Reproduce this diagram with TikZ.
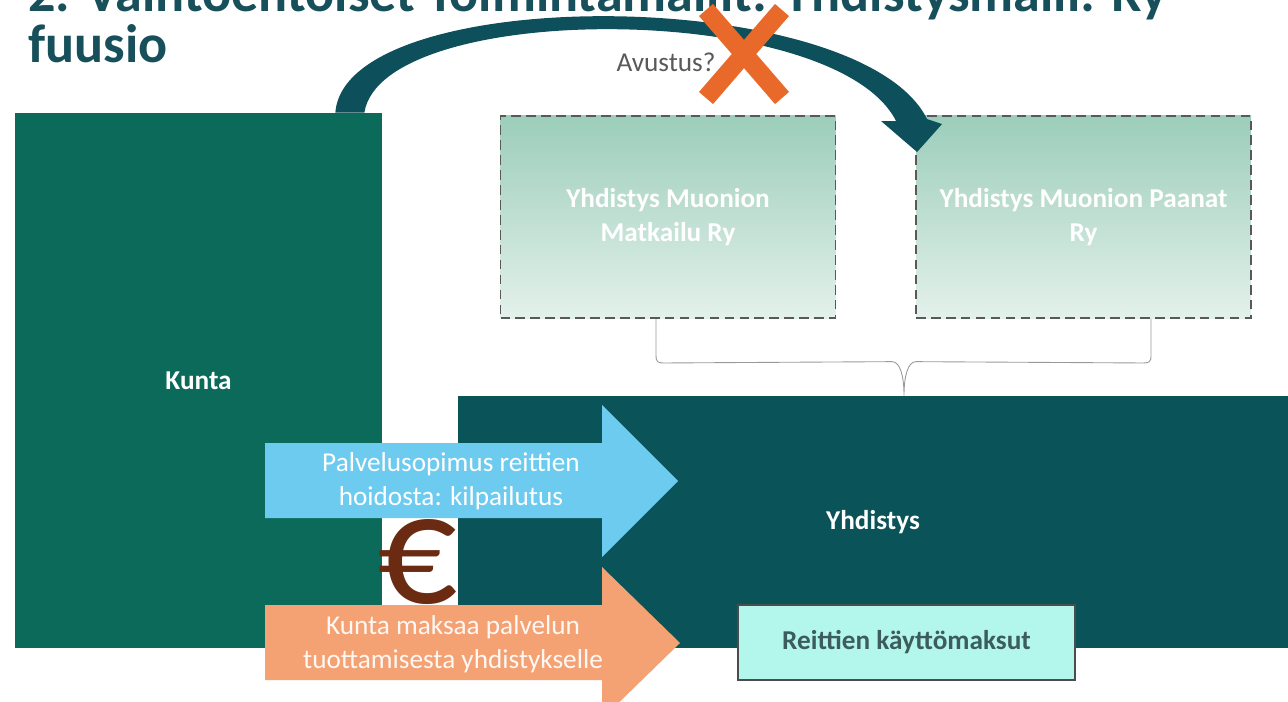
\documentclass[tikz,border=0pt]{standalone}
\usepackage{fontspec}
\setmainfont{Carlito}
\usepackage{xcolor}
\usepackage{tikz}
\usetikzlibrary{calc}
\definecolor{kunta}{HTML}{0B6A5A}
\definecolor{yhd}{HTML}{0A5358}
\definecolor{kaari}{HTML}{0D4F5A}
\definecolor{otsikko}{HTML}{17505A}
\definecolor{sopimus}{HTML}{6DCBF0}
\definecolor{maksu}{HTML}{F4A273}
\definecolor{minttu}{HTML}{B3F7EC}
\definecolor{euro}{HTML}{6B2A12}
\definecolor{risti}{HTML}{E8692A}
\definecolor{ryyla}{HTML}{9CCDBB}
\definecolor{ryala}{HTML}{E3F1EB}
\definecolor{maksuteksti}{HTML}{3D5C5C}

\begin{document}
\begin{tikzpicture}[x=0.2mm, y=-0.2mm,
  font=\fontsize{15.5}{19.5}\selectfont,
  ttl/.style ={anchor=base west, inner sep=0pt, text=otsikko,
               font=\fontsize{30.8}{29}\selectfont\bfseries},
  blok/.style={inner sep=0pt, align=center, text=white, font=\fontsize{15.5}{19.5}\selectfont\bfseries},
  ry/.style  ={blok, draw=black!65, dashed, dash pattern=on 5.5pt off 3pt, line width=1.1pt,
               top color=ryyla, bottom color=ryala, minimum width=67mm, minimum height=40.4mm},
  txt/.style ={inner sep=0pt, align=center},
  brc/.style ={draw=black!40, line width=0.5pt},
  nuoli/.style={line join=miter}
]
\useasboundingbox (0,0) rectangle (1288,701);

% ---------- otsikko ----------
\node[ttl] (ttla) at (28,12) {2. Vaihtoehtoiset Toimintamallit: Yhdistysmalli: Ry};
\node[ttl] (ttlb) at (28,63) {fuusio};

% ---------- toimijat ----------
\node[blok, fill=kunta, minimum width=73.4mm, minimum height=107mm] (ku) at (198.5,380.5) {Kunta};
\node[blok, fill=yhd, minimum width=166mm, minimum height=50.4mm] (yh) at (873,522) {Yhdistys};
\node[ry] (mat) at (668,217)    {Yhdistys Muonion\\Matkailu Ry};
\node[ry] (paa) at (1083.5,217) {Yhdistys Muonion Paanat\\Ry};

% aaltosulje: kaksi ry:ta -> yhdistys
\coordinate (bl) at ($(mat.south)+(-12,0)$);
\coordinate (br) at ($(paa.south)+(67.5,0)$);
\coordinate (bt) at ($(yh.north)+(31,0)$);
\draw[brc] (bl) -- ++(0,36) .. controls +(0,8) and +(-8,0) .. ++(10,8)
  -- ($(bt)+(-12,-34)$) .. controls +(8,0) and +(0,-20) .. (bt)
  .. controls +(0,-20) and +(-8,0) .. ($(bt)+(12,-34)$)
  -- ($(br)+(-10,44)$) .. controls +(8,0) and +(0,8) .. ($(br)+(0,36)$) -- (br);

% ---------- avustus ----------
\coordinate (ka) at ($(ku.north east)+(-47,0)$);
\coordinate (kb) at ($(ku.north east)+(-18,0)$);
\coordinate (so) at ($(paa.north west)+(12,4)$);
\coordinate (si) at ($(paa.north west)+(-19,6)$);
\coordinate (hr) at ($(paa.north west)+(27,9)$);
\coordinate (hl) at ($(paa.north west)+(-34,6)$);
\coordinate (kr) at ($(paa.north west)+(2,37)$);
\fill[kaari, nuoli] (ka) .. controls (345,-18) and (860,-16) .. (so) -- (hr) -- (kr) -- (hl) -- (si)
  .. controls (835,0) and (382,0) .. (kb) -- cycle;
\node[txt, text=black!65] (av) at (666,62) {Avustus?};
\node[inner sep=0pt, minimum size=0pt] (ei) at (744,54) {};
\draw[risti, line width=3.7mm] ($(ei)+(-38,-44)$) -- ($(ei)+(38,44)$);
\draw[risti, line width=3.7mm] ($(ei)+(38,-44)$) -- ($(ei)+(-38,44)$);

% ---------- sopimus ja maksu ----------
\fill[sopimus, nuoli] (265,443) -- (602,443) -- (602,405) -- (678,481) -- (602,557) -- (602,518) -- (265,518) -- cycle;
\node[txt, text=white] (pal) at (451,481) {Palvelusopimus reittien\\hoidosta: kilpailutus};
\fill[maksu, nuoli] (265,605) -- (602,605) -- (602,567) -- (680,643) -- (602,719) -- (602,680) -- (265,680) -- cycle;
\node[txt, text=white!92!maksu] (mak) at (453,644) {Kunta maksaa palvelun\\tuottamisesta yhdistykselle};
\node[txt, text=euro, font=\fontsize{90}{90}\selectfont] (eur) at (418,562) {€};

\node[txt, draw=black!70, line width=0.6pt, fill=minttu, text=maksuteksti,
      font=\fontsize{15.5}{19.5}\selectfont\bfseries,
      minimum width=67.4mm, minimum height=15mm] (kay) at (906.5,642.5) {Reittien käyttömaksut};
\end{tikzpicture}
\end{document}
